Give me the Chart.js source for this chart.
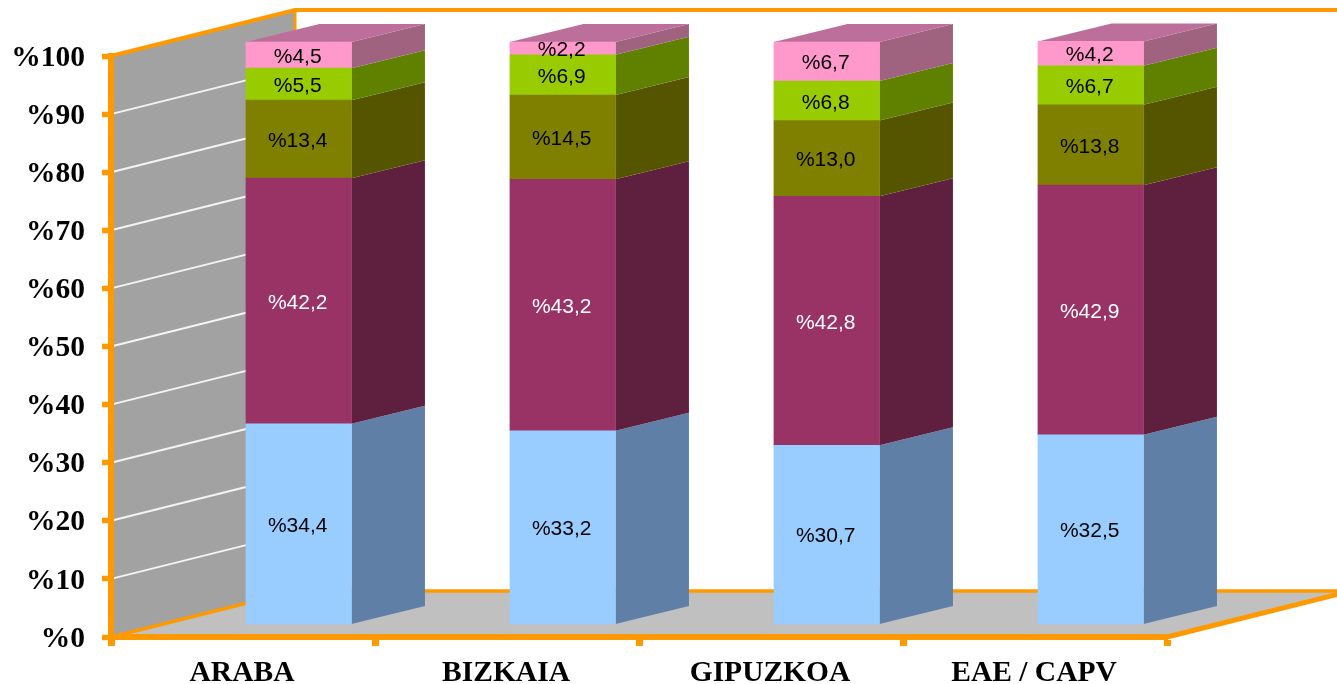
<!DOCTYPE html>
<html>
<head>
<meta charset="utf-8">
<style>html,body{margin:0;padding:0;background:#fff}canvas{display:block}</style>
<script src="https://cdn.jsdelivr.net/npm/chart.js@4"></script>
</head>
<body>
<canvas id="c" width="1337" height="684"></canvas>
<script>
const categories = ["ARABA", "BIZKAIA", "GIPUZKOA", "EAE / CAPV"];
const seriesBlue  = [34.4, 33.2, 30.7, 32.5];
const seriesPlum  = [42.2, 43.2, 42.8, 42.9];
const seriesOlive = [13.4, 14.5, 13.0, 13.8];
const seriesGreen = [5.5, 6.9, 6.8, 6.7];
const seriesPink  = [4.5, 2.2, 6.7, 4.2];

const ORANGE = "#FF9900";
const WALL = {dx: 184, dy: -46};
const BAR3D = {dx: 73.5, dy: -18, shift: 55.7};

const mk = (data, color, side, label) => ({
  data, backgroundColor: color, sideColor: side, labelColor: label,
  xAxisID: "x", yAxisID: "y2", barThickness: 105.5, borderWidth: 0, clip: false
});

function line(ctx, pts, w, color) {
  ctx.beginPath();
  pts.forEach((p, i) => i ? ctx.lineTo(p[0], p[1]) : ctx.moveTo(p[0], p[1]));
  ctx.lineWidth = w; ctx.strokeStyle = color; ctx.lineCap = "butt"; ctx.lineJoin = "miter";
  ctx.stroke();
}
function poly(ctx, pts, color) {
  ctx.beginPath();
  pts.forEach((p, i) => i ? ctx.lineTo(p[0], p[1]) : ctx.moveTo(p[0], p[1]));
  ctx.closePath(); ctx.fillStyle = color; ctx.fill();
}

const scene = {
  id: "scene",
  beforeDraw(chart) {
    const {ctx, scales: {x, y}} = chart;
    const L = x.left, R = x.right, y0 = y.getPixelForValue(0), yT = y.getPixelForValue(100);
    const {dx, dy} = WALL;
    ctx.save();
    poly(ctx, [[L, y0], [L, yT], [L + dx, yT + dy], [L + dx, y0 + dy]], "#A2A2A2");
    poly(ctx, [[L, y0], [R, y0], [R + dx, y0 + dy], [L + dx, y0 + dy]], "#C0C0C0");
    y.ticks.forEach(t => {
      if (t.value === 0 || t.value === 100) return;
      const p = y.getPixelForValue(t.value);
      line(ctx, [[L, p], [L + dx, p + dy]], 2, "#F4F4F4");
    });
    line(ctx, [[L, yT], [L + dx, yT + dy], [R + dx, yT + dy]], 4, ORANGE);
    line(ctx, [[L + dx, yT + dy], [L + dx, y0 + dy]], 3, ORANGE);
    line(ctx, [[L, y0], [L + dx, y0 + dy], [R + dx, y0 + dy]], 3.5, ORANGE);
    line(ctx, [[R, y0], [R + dx, y0 + dy]], 5, ORANGE);
    ctx.restore();
  },
  beforeDatasetsDraw(chart) {
    const {ctx} = chart;
    const {dx, dy, shift} = BAR3D;
    ctx.save();
    ctx.translate(shift, 0);
    const n = chart.data.datasets.length;
    chart.data.datasets.forEach((ds, i) => {
      chart.getDatasetMeta(i).data.forEach(el => {
        const r = el.x + el.width / 2, l = el.x - el.width / 2;
        poly(ctx, [[r, el.base], [r + dx, el.base + dy], [r + dx, el.y + dy], [r, el.y]], ds.sideColor);
        if (i === n - 1) {
          poly(ctx, [[l, el.y], [l + dx, el.y + dy], [r + dx, el.y + dy], [r, el.y]], "#BD6F9B");
        }
      });
    });
  },
  afterDatasetsDraw(chart) {
    const {ctx} = chart;
    ctx.font = '21px "Liberation Sans"';
    ctx.textAlign = "center"; ctx.textBaseline = "middle";
    chart.data.datasets.forEach((ds, i) => {
      chart.getDatasetMeta(i).data.forEach((el, j) => {
        ctx.fillStyle = ds.labelColor;
        ctx.fillText("%" + ds.data[j].toFixed(1).replace(".", ","), el.x - 1, (el.y + el.base) / 2 + 2);
      });
    });
    ctx.restore();
  }
};

new Chart(document.getElementById("c"), {
  type: "bar",
  data: {
    labels: categories,
    datasets: [
      mk(seriesBlue,  "#99CCFF", "#5F7FA6", "#000000"),
      mk(seriesPlum,  "#993366", "#5F1F3F", "#FFFFFF"),
      mk(seriesOlive, "#808000", "#555500", "#000000"),
      mk(seriesGreen, "#99CC00", "#608000", "#000000"),
      mk(seriesPink,  "#FF99CC", "#A0637F", "#000000")
    ]
  },
  plugins: [scene],
  options: {
    responsive: false,
    animation: false,
    layout: {padding: {top: 56, right: 170, bottom: 0, left: 0}},
    plugins: {legend: {display: false}, title: {display: false}, tooltip: {enabled: false}},
    scales: {
      x: {
        stacked: true,
        afterFit(s) { s.height = 47; },
        grid: {drawOnChartArea: false, drawTicks: true, tickLength: 9, tickWidth: 7, tickColor: ORANGE, offset: true},
        border: {color: ORANGE, width: 6},
        ticks: {color: "#000", padding: 10, labelOffset: -1, maxRotation: 0, font: {family: "Liberation Serif", weight: "bold", size: 29.5}}
      },
      y: {
        min: 0, max: 100,
        afterFit(s) { s.width = 111; },
        grid: {drawOnChartArea: false, drawTicks: true, tickLength: 9, tickWidth: 5.5, tickColor: ORANGE},
        border: {color: ORANGE, width: 6},
        ticks: {stepSize: 10, color: "#000", padding: 17, labelOffset: 2, callback: v => "%" + v,
                font: {family: "Liberation Serif", weight: "bold", size: 29.5}}
      },
      y2: {display: false, stacked: true, min: -2.234, max: 97.594}
    }
  }
});
</script>
</body>
</html>
